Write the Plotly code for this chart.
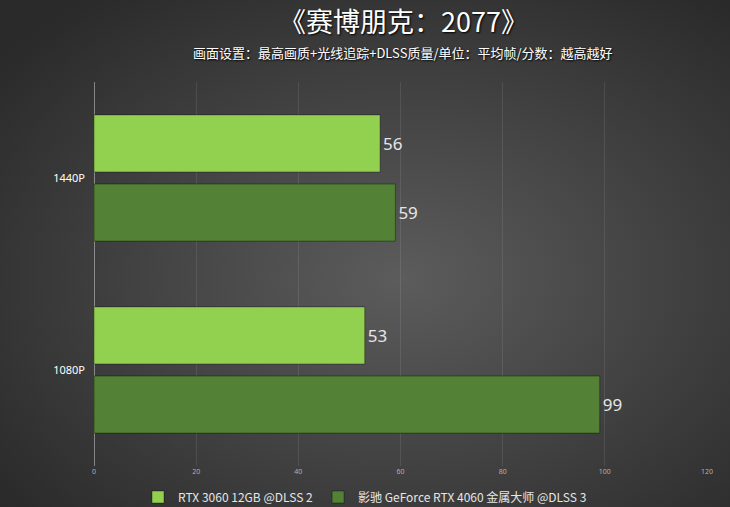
import base64
import plotly.graph_objects as go

# Chart data
resolutions = ["1440P", "1080P"]
series_names = ["RTX 3060 12GB @DLSS 2", "影驰 GeForce RTX 4060 金属大师 @DLSS 3"]
rtx3060_fps = [56, 53]
rtx4060_fps = [59, 99]
x_ticks = [0, 20, 40, 60, 80, 100, 120]

colors = ["#92D050", "#538135"]

# Radial grey background (SVG gradient as inline image)
svg = """<svg xmlns='http://www.w3.org/2000/svg' width='730' height='507' preserveAspectRatio='none'>
<defs><radialGradient id='g' cx='55%' cy='55%' r='70%'>
<stop offset='0%' stop-color='#5c5c5c'/>
<stop offset='100%' stop-color='#2a2a2a'/>
</radialGradient></defs>
<rect width='730' height='507' fill='url(#g)'/>
</svg>"""
bg_uri = "data:image/svg+xml;base64," + base64.b64encode(svg.encode()).decode()

W, H = 730, 507
ml, mr, mt, mb = 94, 23, 82, 41
pw, ph = W - ml - mr, H - mt - mb

fig = go.Figure()
for name, vals, col in zip(series_names, [rtx3060_fps, rtx4060_fps], colors):
    fig.add_trace(go.Bar(
        y=resolutions, x=vals, name=name, orientation="h",
        marker=dict(color=col, line=dict(color="rgba(0,0,0,0.35)", width=1)),
        text=vals, textposition="outside", cliponaxis=False,
        textfont=dict(size=17, color="#e6e6e6", family="Noto Sans"),
    ))

fig.update_layout(
    width=W, height=H,
    margin=dict(l=ml, r=mr, t=mt, b=mb, autoexpand=False),
    paper_bgcolor="#404040", plot_bgcolor="rgba(0,0,0,0)",
    barmode="group", bargap=0.28, bargroupgap=0.174,
    font=dict(family="Noto Sans CJK SC", color="#e6e6e6"),
    showlegend=True,
    legend=dict(orientation="h", xref="container", yref="container",
                x=0.5, xanchor="center", y=10 / H, yanchor="middle",
                font=dict(size=12, color="#e6e6e6", family="Noto Sans CJK SC"),
                bgcolor="rgba(0,0,0,0)"),
    images=[dict(source=bg_uri, xref="paper", yref="paper",
                 x=-ml / pw, y=(H - mb) / ph, sizex=W / pw, sizey=H / ph,
                 xanchor="left", yanchor="top", sizing="stretch", layer="below")],
    annotations=[
        dict(text="《赛博朋克：2077》", xref="paper", yref="paper",
             x=(403 - ml) / pw, y=(H - mb - 20) / ph, showarrow=False,
             xanchor="center", yanchor="middle",
             font=dict(size=27, color="white", family="Noto Sans CJK SC",
                       shadow="1px 1px 2px black")),
        dict(text="画面设置：最高画质+光线追踪+DLSS质量/单位：平均帧/分数：越高越好",
             xref="paper", yref="paper",
             x=(403 - ml) / pw, y=(H - mb - 52) / ph, showarrow=False,
             xanchor="center", yanchor="middle",
             font=dict(size=13, color="white", family="Noto Sans CJK SC",
                       shadow="1px 1px 2px black")),
    ],
)

fig.update_xaxes(range=[0, 120], tickvals=x_ticks, showgrid=True,
                 gridcolor="rgba(255,255,255,0.09)", gridwidth=1,
                 zeroline=True, zerolinecolor="rgba(255,255,255,0.4)", zerolinewidth=1,
                 tickfont=dict(size=7, color="#b0b0b0", family="Noto Sans"),
                 ticks="", showline=False, automargin=False)
fig.update_yaxes(autorange="reversed", showgrid=False, ticks="",
                 tickfont=dict(size=11, color="white", family="Noto Sans"),
                 ticklabelstandoff=8, automargin=False)

# drop the page's default body margin so the figure fills the window
fig.write_html("out.html", config={"displayModeBar": False},
               post_script="document.body.style.margin='0';")
